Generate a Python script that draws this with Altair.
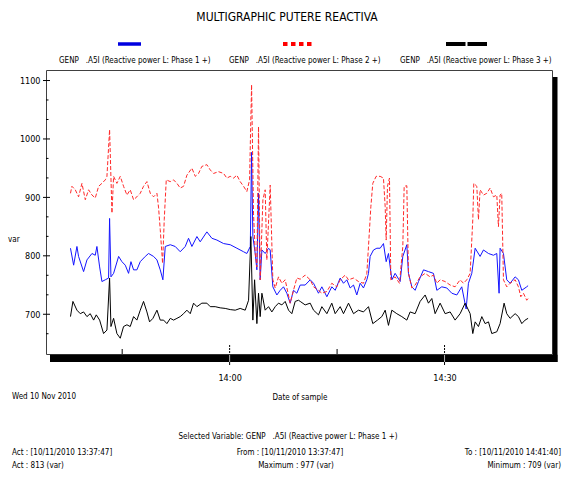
import altair as alt
import pandas as pd

FONT = "DejaVu Sans Condensed, Liberation Sans, sans-serif"
START = pd.Timestamp("2010-11-10 13:37:47")

# Phase 1 (selected variable) -- minutes after 13:37:47, value in var
p1_min = [0.0, 0.44, 0.9, 1.13, 1.83, 2.3, 3.0, 3.46, 3.69, 4.07, 4.39, 4.86, 5.32, 5.46,
          5.65, 6.02, 6.72, 7.18, 7.65, 8.11, 8.44, 8.81, 9.27, 9.74, 10.44, 10.9, 11.6,
          12.07, 12.53, 12.9, 13.23, 13.93, 14.62, 15.32, 16.02, 16.48, 16.95, 17.65, 18.11,
          19.04, 19.74, 20.44, 21.37, 22.3, 23.23, 24.16, 24.62, 25.1, 25.28, 25.46, 25.79,
          26.02, 26.25, 26.48, 26.72, 27.18, 27.65, 27.88, 28.25, 28.81, 29.27, 29.74, 30.2,
          30.67, 31.13, 31.6, 32.07, 32.76, 33.46, 33.93, 34.62, 35.09, 35.79, 36.48, 36.95,
          37.65, 38.11, 38.58, 39.04, 39.51, 39.97, 40.44, 40.9, 41.37, 41.6, 41.83, 42.3,
          42.77, 43.23, 43.69, 44.07, 44.39, 44.86, 45.32, 46.02, 46.39, 46.95, 47.18, 47.65,
          48.11, 48.58, 49.28, 49.97, 50.67, 51.14, 51.83, 52.53, 53.23, 53.93, 54.62, 55.23,
          55.55, 56.02, 56.49, 57.18, 57.65, 58.35, 59.04, 59.51, 59.83, 59.97, 60.44, 60.9,
          61.37, 62.07, 62.53, 63.0, 63.69, 63.88]
p1_var = [813, 784, 816, 799, 773, 793, 804, 801, 816, 781, 756, 759, 762, 864,
          764, 770, 799, 790, 784, 770, 790, 776, 776, 790, 799, 804, 799,
          793, 776, 759, 816, 819, 816, 807, 816, 830, 816, 833, 824,
          841, 830, 827, 821, 819, 813, 807, 804, 816, 977, 833, 804,
          776, 907, 759, 810, 804, 813, 810, 747, 733, 741, 747, 736,
          719, 741, 736, 750, 750, 759, 753, 736, 747, 730, 747, 741,
          762, 753, 759, 745, 750, 733, 753, 745, 759, 770, 799, 810,
          813, 813, 821, 790, 804, 759, 770, 756, 799, 819, 770, 747,
          741, 756, 776, 773, 770, 741, 747, 745, 736, 733, 747, 709,
          753, 770, 813, 799, 810, 804, 801, 804, 736, 813, 804, 759,
          753, 764, 759, 741, 747, 749]

# Phase 2
p2_min = [0.0, 0.2, 0.67, 1.13, 1.6, 2.07, 2.53, 3.0, 3.46, 3.93, 4.39, 4.86, 5.09, 5.46,
          5.79, 6.02, 6.48, 6.95, 7.41, 7.88, 8.34, 8.81, 9.27, 9.74, 10.2, 10.67, 11.14,
          11.6, 12.07, 12.3, 12.53, 12.86, 13.09, 13.37, 13.93, 14.39, 14.86, 15.32, 15.79,
          16.25, 16.95, 17.42, 17.88, 18.34, 19.04, 19.51, 19.97, 20.67, 21.37, 21.83, 22.3,
          22.77, 23.23, 23.69, 24.16, 24.62, 25.0, 25.28, 25.55, 25.79, 26.02, 26.25, 26.48,
          26.86, 27.18, 27.41, 27.88, 28.25, 28.58, 29.04, 29.51, 29.97, 30.67, 31.13, 31.6,
          32.07, 32.76, 33.46, 33.93, 34.62, 35.09, 35.79, 36.48, 37.18, 37.65, 38.35, 38.81,
          39.51, 40.2, 40.9, 41.37, 41.6, 41.93, 42.2, 42.67, 43.23, 43.69, 43.93, 44.07,
          44.25, 44.53, 44.72, 45.32, 45.93, 46.39, 46.58, 46.95, 47.18, 47.65, 48.11, 48.81,
          49.51, 50.2, 50.67, 51.14, 51.6, 52.3, 53.0, 53.69, 54.39, 54.86, 55.32, 55.79,
          56.16, 56.3, 56.72, 56.95, 57.18, 57.65, 58.11, 58.58, 59.04, 59.51, 59.74, 59.97,
          60.2, 60.44, 60.9, 61.37, 62.07, 62.53, 62.86, 63.23, 63.69, 63.88]
p2_var = [907, 919, 913, 901, 924, 896, 913, 904, 899, 919, 924, 930, 936, 1016,
          873, 936, 924, 936, 919, 904, 913, 896, 901, 907, 919, 927, 907,
          901, 907, 882, 845, 787, 862, 930, 927, 930, 924, 916, 919,
          938, 950, 936, 941, 953, 956, 947, 941, 944, 941, 933, 936,
          933, 938, 927, 919, 910, 930, 1093, 873, 804, 781, 1021, 759,
          896, 913, 793, 921, 759, 745, 764, 753, 759, 719, 741, 762,
          760, 767, 759, 747, 741, 736, 739, 753, 747, 759, 767, 759,
          762, 756, 753, 770, 816, 884, 924, 936, 936, 933, 884, 827,
          919, 933, 759, 764, 753, 816, 919, 920, 770, 745, 750, 764,
          770, 764, 767, 753, 759, 756, 750, 747, 759, 753, 759, 770,
          862, 924, 919, 862, 913, 904, 907, 916, 901, 904, 850, 904,
          907, 759, 747, 753, 759, 747, 730, 736, 724, 727]

# Phase 3
p3_min = [0.0, 0.34, 0.9, 1.37, 1.83, 2.3, 2.76, 3.23, 3.6, 4.07, 4.62, 5.09, 5.46, 5.65,
          6.02, 6.48, 6.95, 7.41, 7.88, 8.34, 8.81, 9.27, 9.74, 10.2, 10.67, 11.04, 11.51,
          12.07, 12.53, 13.0, 13.46, 13.93, 14.39, 14.86, 15.32, 15.79, 16.25, 16.72, 17.18,
          17.65, 18.34, 19.04, 19.51, 20.2, 20.9, 21.6, 22.3, 23.0, 23.69, 24.39, 24.86,
          25.18, 25.46, 25.7, 26.02, 26.25, 26.48, 26.72, 27.18, 27.65, 28.11, 28.58, 29.04,
          29.51, 29.97, 30.44, 30.9, 31.37, 31.83, 32.07, 32.76, 33.46, 33.93, 34.62, 35.09,
          35.79, 36.48, 36.95, 37.65, 38.11, 38.81, 39.51, 40.2, 40.9, 41.6, 42.2, 42.86,
          43.46, 43.93, 44.39, 44.86, 45.55, 46.25, 46.95, 47.41, 48.11, 48.81, 49.51, 49.97,
          50.44, 50.9, 51.6, 52.3, 53.0, 53.69, 54.39, 55.09, 55.79, 56.16, 56.49, 56.95,
          57.42, 57.88, 58.35, 58.81, 59.51, 59.97, 60.53, 60.9, 61.37, 62.07, 62.53, 63.0,
          63.46, 63.88]
p3_var = [696, 722, 707, 701, 704, 696, 701, 690, 699, 690, 667, 673, 762, 679,
          693, 667, 659, 679, 682, 679, 696, 690, 707, 722, 704, 687, 693,
          707, 690, 690, 684, 693, 690, 693, 696, 701, 707, 701, 719,
          713, 719, 719, 713, 713, 711, 710, 708, 707, 710, 707, 724,
          833, 690, 759, 684, 736, 696, 736, 707, 713, 704, 713, 719,
          716, 722, 707, 701, 722, 724, 722, 716, 719, 707, 699, 713,
          701, 719, 701, 713, 701, 719, 701, 707, 704, 713, 684, 690,
          696, 707, 681, 707, 701, 696, 690, 704, 701, 722, 733, 719,
          727, 701, 719, 701, 704, 690, 701, 719, 701, 667, 687, 679,
          696, 684, 687, 667, 670, 684, 719, 701, 693, 701, 696, 684,
          690, 693]

y_labels = [700, 800, 900, 1000, 1100]
y_minor = [666.7, 733.3, 766.7, 833.3, 866.7, 933.3, 966.7, 1033.3, 1066.7]
x_major = ["2010-11-10T14:00:00", "2010-11-10T14:30:00"]
x_minor = ["2010-11-10T13:45:00", "2010-11-10T14:15:00"]

legend_texts = [
    "GENP\u00a0\u00a0\u00a0.A5I (Reactive power L: Phase 1 +)",
    "GENP\u00a0\u00a0\u00a0.A5I (Reactive power L: Phase 2 +)",
    "GENP\u00a0\u00a0\u00a0.A5I (Reactive power L: Phase 3 +)",
]
title_text = "MULTIGRAPHIC PUTERE REACTIVA"
selected_text = "Selected Variable: GENP\u00a0\u00a0\u00a0.A5I (Reactive power L: Phase 1 +)"
act_time = "Act : [10/11/2010 13:37:47]"
from_time = "From : [10/11/2010 13:37:47]"
to_time = "To : [10/11/2010 14:41:40]"
act_val = "Act : 813 (var)"
max_val = "Maximum : 977 (var)"
min_val = "Minimum : 709 (var)"


def series(mins, vals):
    return pd.DataFrame({"t": START + pd.to_timedelta(mins, unit="m"), "v": vals})


W, H = 506, 284
x_scale = alt.Scale(domain=[alt.DateTime(year=2010, month=11, date=10, hours=13, minutes=34, seconds=22),
                            alt.DateTime(year=2010, month=11, date=10, hours=14, minutes=45, seconds=0)],
                    nice=False)
y_scale = alt.Scale(domain=[632, 1118], nice=False, zero=False)

x_axis = alt.Axis(values=[alt.DateTime(year=2010, month=11, date=10, hours=14, minutes=0),
                          alt.DateTime(year=2010, month=11, date=10, hours=14, minutes=30)],
                  format="%H:%M", ticks=False, tickSize=0, domain=False, grid=False,
                  labelPadding=19, labelFont=FONT, labelFontSize=9, labelColor="black", title=None)
y_axis = alt.Axis(values=y_labels, format="d", ticks=False, tickSize=0, domain=False, grid=False,
                  labelPadding=6, labelFont=FONT, labelFontSize=9, labelColor="black", title=None)

X = lambda: alt.X("t:T", scale=x_scale, axis=x_axis)
Y = lambda: alt.Y("v:Q", scale=y_scale, axis=y_axis)


def line(df, color, dash=None):
    kw = dict(color=color, strokeWidth=1, interpolate="linear")
    if dash:
        kw["strokeDash"] = dash
    return alt.Chart(df).mark_line(**kw).encode(x=X(), y=Y())


one = pd.DataFrame({"k": [0]})


def txt(s, x, y, align="left", size=8):
    return alt.Chart(one).mark_text(text=s, align=align, baseline="middle", font=FONT,
                                    fontSize=size, color="black").encode(
        x=alt.value(x), y=alt.value(y))


def bar(x1, x2, y1, y2, color="black"):
    return alt.Chart(one).mark_rect(color=color).encode(
        x=alt.value(x1), x2=alt.value(x2), y=alt.value(y1), y2=alt.value(y2))


def swatch(x1, x2, y, color, dash=None, width=4):
    kw = dict(color=color, strokeWidth=width)
    if dash:
        kw["strokeDash"] = dash
    return alt.Chart(one).mark_rule(**kw).encode(
        x=alt.value(x1), x2=alt.value(x2), y=alt.value(y))


# drop shadow of the plot frame
shadow = bar(506.8, 511.5, 7, 292) + bar(4, 511.5, 284.8, 292)

y_major_ticks = alt.Chart(pd.DataFrame({"v": y_labels})).mark_rule(color="black").encode(
    y=Y(), x=alt.value(-3), x2=alt.value(4))
y_minor_ticks = alt.Chart(pd.DataFrame({"v": y_minor})).mark_rule(color="black").encode(
    y=Y(), x=alt.value(0), x2=alt.value(2.5))
xt = pd.DataFrame({"t": pd.to_datetime(x_major)})
x_major_ticks = (
    alt.Chart(xt).mark_rule(color="black", strokeDash=[2, 1]).encode(
        x=X(), y=alt.value(275), y2=alt.value(284))
    + alt.Chart(xt).mark_rule(color="#b0b0b0").encode(
        x=X(), y=alt.value(285), y2=alt.value(292))
    + alt.Chart(xt).mark_rule(color="black").encode(
        x=X(), y=alt.value(292), y2=alt.value(295))
)
x_minor_ticks = alt.Chart(pd.DataFrame({"t": pd.to_datetime(x_minor)})).mark_rule(color="black").encode(
    x=X(), y=alt.value(279), y2=alt.value(284))

lines = (
    line(series(p1_min, p1_var), "#1414ff")
    + line(series(p2_min, p2_var), "#ff2a2a", dash=[4, 2])
    + line(series(p3_min, p3_var), "#000000")
)

legend = (
    swatch(72, 95, -26, "#0000e0", width=3.5)
    + swatch(237, 269, -26, "#ff0000", dash=[4.5, 3.5], width=4)
    + swatch(400, 441, -26, "#000000", dash=[19.5, 2], width=4)
    + txt(legend_texts[0], 13, -9)
    + txt(legend_texts[1], 183, -9)
    + txt(legend_texts[2], 354, -9)
)

texts = (
    txt(title_text, 241, -53, align="center", size=12)
    + txt("var", -38, 170)
    + txt("Wed 10 Nov 2010", -34, 327)
    + txt("Date of sample", 254, 328, align="center")
    + txt(selected_text, 242, 367, align="center")
    + txt(act_time, -34, 383)
    + txt(from_time, 244, 383, align="center")
    + txt(to_time, 515, 383, align="right")
    + txt(act_val, -34, 396)
    + txt(max_val, 250, 396, align="center")
    + txt(min_val, 515, 396, align="right")
)

chart = alt.layer(
    lines, shadow, y_major_ticks, y_minor_ticks, x_major_ticks, x_minor_ticks, legend, texts
).properties(
    width=W, height=H,
    autosize=alt.AutoSizeParams(type="none"),
    padding={"left": 46, "top": 70, "right": 11, "bottom": 124},
    background="white",
).configure_view(stroke="#404040", strokeWidth=1)

chart.save("out.html", embed_options={"renderer": "svg", "actions": False})
